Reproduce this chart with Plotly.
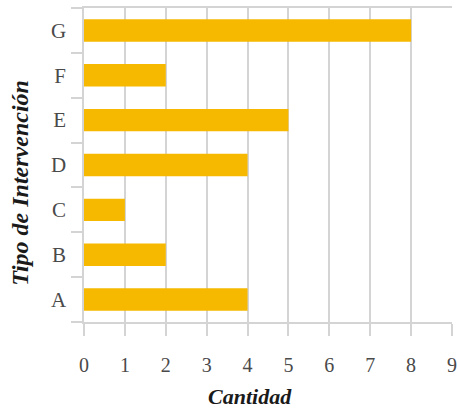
import plotly.graph_objects as go

categories = ["A", "B", "C", "D", "E", "F", "G"]
values = [4, 2, 1, 4, 5, 2, 8]
x_ticks = [0, 1, 2, 3, 4, 5, 6, 7, 8, 9]

grid = "#d4d4d4"
font_color = "#4a4a4a"

fig = go.Figure(go.Bar(
    x=values, y=categories, orientation="h",
    marker=dict(color="#F6B900", line=dict(width=0)),
    width=0.5,
))

fig.update_layout(
    width=458, height=410,
    margin=dict(l=84, r=6, t=8, b=88, autoexpand=False),
    paper_bgcolor="white", plot_bgcolor="white",
    font=dict(family="Liberation Serif", size=20, color=font_color),
    showlegend=False,
    xaxis=dict(
        range=[0, 9], tickvals=x_ticks, ticktext=[str(t) for t in x_ticks],
        automargin=False, ticklabeloverflow="allow",
        showgrid=True, gridcolor=grid, gridwidth=1.5,
        zeroline=False, showline=True, linecolor=grid, linewidth=1.5, mirror=True,
        ticks="outside", ticklen=12, tickcolor=grid, tickwidth=1.5,
        ticklabelstandoff=12,
        tickfont=dict(size=20, color=font_color),
    ),
    yaxis=dict(
        categoryorder="array", categoryarray=categories,
        automargin=False,
        tickson="boundaries", ticks="outside", ticklen=11, tickcolor=grid, tickwidth=1.5,
        ticklabelstandoff=12,
        showgrid=False, showline=True, linecolor=grid, linewidth=1.5,
        tickfont=dict(size=21, color=font_color),
    ),
    annotations=[
        dict(text="<b><i>Cantidad</i></b>", xref="paper", yref="paper",
             x=0.451, y=-0.236, xanchor="center", yanchor="middle", showarrow=False,
             font=dict(size=22, color="#1a1a1a")),
        dict(text="<b><i>Tipo de Intervención</i></b>", xref="paper", yref="paper",
             x=-0.174, y=0.443, xanchor="center", yanchor="middle", showarrow=False,
             textangle=-90, font=dict(size=24, color="#1a1a1a")),
    ],
)

fig.write_html(
    "out.html",
    config=dict(displayModeBar=False, responsive=False),
    post_script="document.body.style.margin='0';document.body.style.overflow='hidden';",
)
